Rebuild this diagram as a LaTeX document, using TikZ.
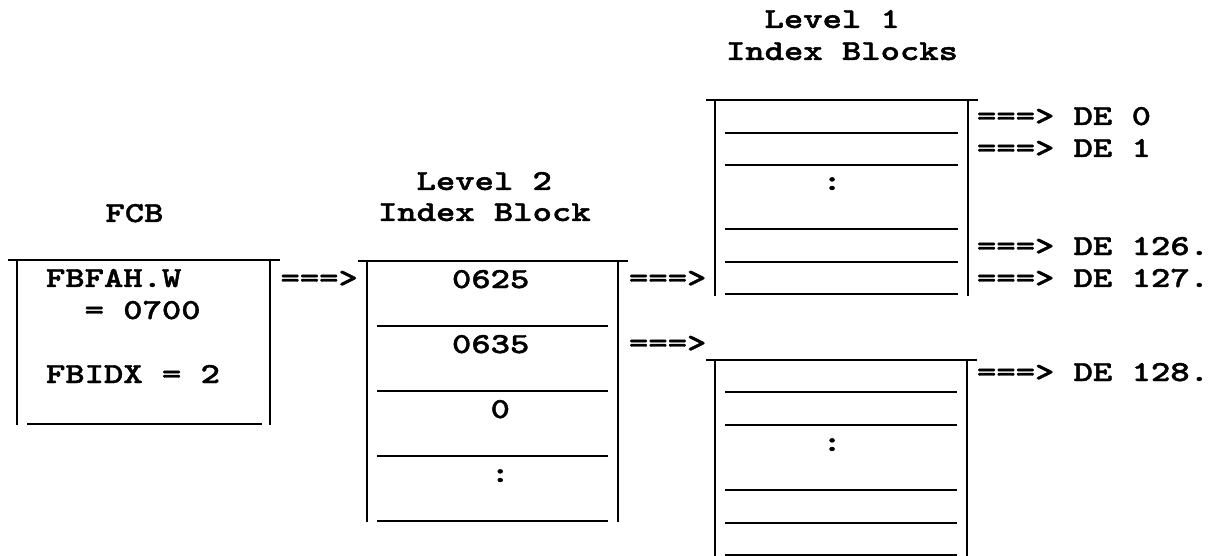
\documentclass[tikz,border=0pt]{standalone}
\usepackage{fontspec}
% typewriter lettering: Latin Modern Mono bold, widened to a Courier-like pitch
\newfontfamily\blockfont[FakeStretch=1.27,FakeBold=1.4]{lmmonolt10-bold.otf}
\begin{document}
\begin{tikzpicture}[x=1pt,y=-1pt,
  rule/.style={line width=2.4pt},
  lbl/.style={inner sep=0pt, outer sep=0pt, anchor=base west,
    font=\blockfont\fontsize{29}{34}\selectfont}]
\fill[white] (0,0) rectangle (1213,556);
\useasboundingbox (0,0) rectangle (1213,556);

% ---- FCB ----
\node[lbl,anchor=base] (fcbtitle) at (134.5,222) {FCB};
\draw[rule] (8,260) -- (280,260);
\draw[rule] (17,260) -- (17,425);
\draw[rule] (270,260) -- (270,425);
\draw[rule] (27,424) -- (262,424);
\node[lbl] (fbfah) at (46,287) {FBFAH.W};
\node[lbl] (fbfahval) at (84.6,319) {= 0700};
\node[lbl] (fbidx) at (46,383) {FBIDX = 2};
\node[lbl] (arrfcb) at (280.5,287) {===>};

% ---- Level 2 index block ----
\node[lbl] (ltwoa) at (416.6,190) {Level 2};
\node[lbl] (ltwob) at (378,221) {Index Block};
\draw[rule] (358,261) -- (628,261);
\draw[rule] (367,261) -- (367,522);
\draw[rule] (618,261) -- (618,522);
\foreach \yy in {326,391,456,521} \draw[rule] (377,\yy) -- (608,\yy);
\node[lbl] (ea) at (452,288) {0625};
\node[lbl] (eb) at (452,353) {0635};
\node[lbl] (ec) at (490.6,418) {0};
\node[lbl] (ed) at (490.6,482) {:};
\node[lbl] (arra) at (629,287) {===>};
\node[lbl] (arrb) at (629,352) {===>};

% ---- Level 1 index blocks ----
\node[lbl] (lonea) at (764.6,28) {Level 1};
\node[lbl] (loneb) at (726,60) {Index Blocks};

% first level 1 block
\draw[rule] (706,100) -- (978,100);
\draw[rule] (715,100) -- (715,296);
\draw[rule] (968,100) -- (968,296);
\foreach \yy in {133,165,229,262,294} \draw[rule] (725,\yy) -- (958,\yy);
\node[lbl] (dotsa) at (822.4,190) {:};
\node[lbl] (dea) at (977,125) {===> DE 0};
\node[lbl] (deb) at (977,157) {===> DE 1};
\node[lbl] (dec) at (977,255) {===> DE 126.};
\node[lbl] (ded) at (977,287) {===> DE 127.};

% second level 1 block
\draw[rule] (706,360) -- (977,360);
\draw[rule] (715,360) -- (715,556);
\draw[rule] (967,360) -- (967,556);
\foreach \yy in {392,425,490,523,555} \draw[rule] (725,\yy) -- (957,\yy);
\node[lbl] (dotsb) at (822.4,451) {:};
\node[lbl] (dee) at (977,381) {===> DE 128.};
\end{tikzpicture}
\end{document}
